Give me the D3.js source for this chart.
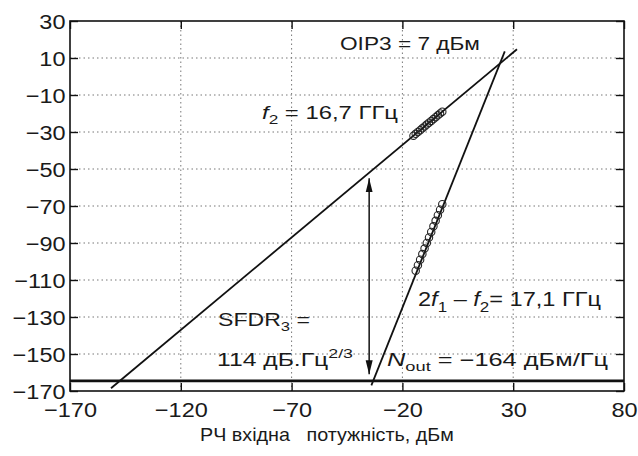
<!DOCTYPE html>
<html>
<head>
<meta charset="utf-8">
<script src="https://cdn.jsdelivr.net/npm/d3@7"></script>
<style>
  body { margin: 0; background: #fff; }
  svg { font-family: "Liberation Sans", Arial, sans-serif; }
  .grid line { stroke: #777; stroke-width: 1; stroke-dasharray: 1.5,3; }
  .axis path { display: none; }
  .axis line { stroke: #111; stroke-width: 1.4; }
  .axis text { font-size: 21px; fill: #1a1a1a; }
</style>
</head>
<body>
<svg id="chart" width="638" height="456"></svg>
<script>
// axis ticks
var xTicks = [-170, -120, -70, -20, 30, 80];
var yTicks = [30, 10, -10, -30, -50, -70, -90, -110, -130, -150, -170];

// measured points (input power, dBm -> output power, dBm)
var fundIn  = [-15, -14, -13, -12, -11, -10, -9, -8, -7, -6, -5, -4, -3, -2];
var fundOut = [-32, -31, -30, -29, -28, -27, -26, -25, -24, -23, -22, -21, -20, -19];
var im3In   = [-14, -13, -12, -11, -10, -9, -8, -7, -6, -5, -4, -3, -2];
var im3Out  = [-105, -102, -99, -96, -93, -90, -87, -84, -81, -78, -75, -72, -69];

// fitted lines (end points)
var fundFitX = [-151.5, 31.7], fundFitY = [-168.5, 14.7];
var im3FitX  = [-34, 26.2],    im3FitY  = [-167, 13.6];

var noiseFloor = -164.5;
var sfdrX = -35, sfdrY = [-55, -161];

var svg = d3.select("#chart"),
    margin = {top: 21, right: 14, bottom: 65, left: 70},
    width = +svg.attr("width") - margin.left - margin.right,
    height = +svg.attr("height") - margin.top - margin.bottom;

var x = d3.scaleLinear().domain([-170, 80]).range([0, width]),
    y = d3.scaleLinear().domain([-170, 30]).range([height, 0]);

svg.append("defs").append("marker")
    .attr("id", "head")
    .attr("viewBox", "0 0 14 8")
    .attr("refX", 14).attr("refY", 4)
    .attr("markerWidth", 14).attr("markerHeight", 8)
    .attr("markerUnits", "userSpaceOnUse")
    .attr("orient", "auto-start-reverse")
    .append("path").attr("d", "M0,0.5 L14,4 L0,7.5 Z").attr("fill", "#111");

var g = svg.append("g")
    .attr("transform", "translate(" + margin.left + "," + margin.top + ")");

// dotted grid
var grid = g.append("g").attr("class", "grid");
grid.selectAll(".gx").data(xTicks.slice(1, -1)).enter().append("line")
    .attr("x1", function(d) { return x(d); }).attr("x2", function(d) { return x(d); })
    .attr("y1", 0).attr("y2", height);
grid.selectAll(".gy").data(yTicks.slice(1, -1)).enter().append("line")
    .attr("x1", 0).attr("x2", width)
    .attr("y1", function(d) { return y(d); }).attr("y2", function(d) { return y(d); });

// axes, ticks pointing inwards
g.append("g").attr("class", "axis")
    .call(d3.axisLeft(y).tickValues(yTicks).tickSize(-8).tickPadding(4))
    .selectAll("text").attr("transform", "scale(1.12,1)").attr("dy", "0.36em");
g.append("g").attr("class", "axis")
    .attr("transform", "translate(0," + height + ")")
    .call(d3.axisBottom(x).tickValues(xTicks).tickSize(-8).tickPadding(11))
    .selectAll("text").attr("transform", "scale(1.12,1)");
g.append("g").attr("class", "axis")
    .call(d3.axisTop(x).tickValues(xTicks).tickSize(-8).tickFormat(""));
g.append("g").attr("class", "axis")
    .attr("transform", "translate(" + width + ",0)")
    .call(d3.axisRight(y).tickValues(yTicks).tickSize(-8).tickFormat(""));

g.append("rect")
    .attr("width", width).attr("height", height)
    .attr("fill", "none").attr("stroke", "#111").attr("stroke-width", 1.6);

var line = d3.line().x(function(d) { return x(d[0]); }).y(function(d) { return y(d[1]); });

// noise floor
g.append("path")
    .attr("d", line([[-170, noiseFloor], [80, noiseFloor]]))
    .attr("stroke", "#111").attr("stroke-width", 2.6);

g.append("path").attr("d", line(d3.zip(fundFitX, fundFitY)))
    .attr("fill", "none").attr("stroke", "#111").attr("stroke-width", 1.8);
g.append("path").attr("d", line(d3.zip(im3FitX, im3FitY)))
    .attr("fill", "none").attr("stroke", "#111").attr("stroke-width", 1.8);

g.selectAll(".pf").data(d3.zip(fundIn, fundOut)).enter().append("circle")
    .attr("cx", function(d) { return x(d[0]); })
    .attr("cy", function(d) { return y(d[1]); })
    .attr("r", 3.7).attr("fill", "none").attr("stroke", "#222").attr("stroke-width", 1.1);
g.selectAll(".pi").data(d3.zip(im3In, im3Out)).enter().append("circle")
    .attr("cx", function(d) { return x(d[0]); })
    .attr("cy", function(d) { return y(d[1]); })
    .attr("r", 3.7).attr("fill", "none").attr("stroke", "#222").attr("stroke-width", 1.1);

// SFDR arrow
g.append("line")
    .attr("x1", x(sfdrX)).attr("x2", x(sfdrX))
    .attr("y1", y(sfdrY[0])).attr("y2", y(sfdrY[1]))
    .attr("stroke", "#111").attr("stroke-width", 1.5)
    .attr("marker-start", "url(#head)").attr("marker-end", "url(#head)");

// labels: parts are [text, style]; stretched to the measured width
function label(px, py, w, size, parts) {
  var t = svg.append("text")
      .attr("font-size", size).attr("fill", "#1a1a1a")
      .attr("transform", "translate(" + px + "," + py + ")");
  var shift = 0;
  parts.forEach(function(p) {
    var s = t.append("tspan").text(p[0]);
    var want = p[1] == "sub" ? size * 0.3 : p[1] == "sup" ? -size * 0.45 : 0;
    if (want != shift) { s.attr("dy", want - shift); shift = want; }
    if (p[1] == "sub" || p[1] == "sup") s.attr("font-size", size * 0.72);
    if (p[1] == "i") s.attr("font-style", "italic");
  });
  var bw = t.node().getBBox().width;
  t.attr("transform", "translate(" + px + "," + py + ") scale(" + (w / bw) + ",1)");
}

label(340, 50, 140, 18.5, [["OIP3 = 7 дБм"]]);
label(262, 119, 136, 17.7, [["f", "i"], ["2", "sub"], [" = 16,7 ГГц"]]);
label(418, 306, 183, 19.5, [["2"], ["f", "i"], ["1", "sub"], [" – "], ["f", "i"], ["2", "sub"], ["= 17,1 ГГц"]]);
label(218, 326, 92, 17.7, [["SFDR"], ["3", "sub"], [" ="]]);
label(217, 366, 136, 17.7, [["114 дБ.Гц"], ["2/3", "sup"]]);
label(387, 366, 221, 18, [["N", "i"], ["out", "sub"], [" = −164 дБм/Гц"]]);

var xl = svg.append("text").attr("font-size", 18).attr("fill", "#1a1a1a")
    .attr("xml:space", "preserve").style("white-space", "pre")
    .text("РЧ вхідна   потужність, дБм");
var xlw = xl.node().getBBox().width;
xl.attr("transform", "translate(200,441) scale(" + (254 / xlw) + ",1)");
</script>
</body>
</html>
